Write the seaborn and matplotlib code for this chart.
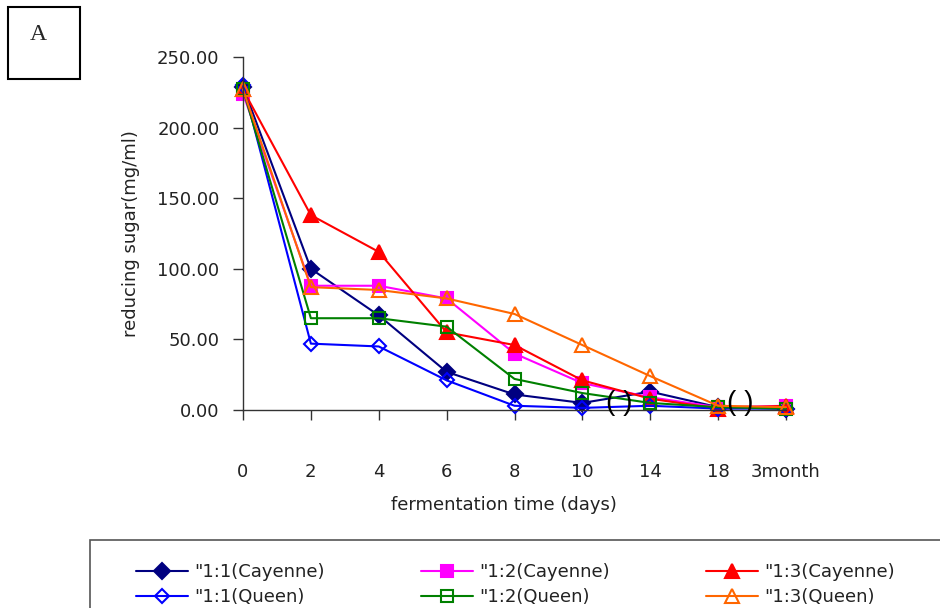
import matplotlib
matplotlib.use("Agg")
import matplotlib.pyplot as plt
from matplotlib.patches import Rectangle
from matplotlib.ticker import FormatStrFormatter
import seaborn as sns
import pandas as pd

# fermentation time categories
time_labels = ["0", "2", "4", "6", "8", "10", "14", "18", "3month"]

# reducing sugar (mg/ml) per treatment
cay_1_1 = [229, 100, 67, 27, 11, 5, 13, 2, 1]
cay_1_2 = [224, 88, 88, 79, 40, 19, 9, 2, 3]
cay_1_3 = [227, 138, 112, 55, 46, 21, 8, 1, 3]
queen_1_1 = [230, 47, 45, 21, 3, 1.5, 3, 1, 1]
queen_1_2 = [227, 65, 65, 59, 22, 12, 5, 2, 1]
queen_1_3 = [227, 87, 85, 79, 68, 46, 24, 3, 2]

series_names = ['"1:1(Cayenne)', '"1:2(Cayenne)', '"1:3(Cayenne)',
                '"1:1(Queen)', '"1:2(Queen)', '"1:3(Queen)']
series_values = [cay_1_1, cay_1_2, cay_1_3, queen_1_1, queen_1_2, queen_1_3]
series_colors = ["#000080", "#FF00FF", "#FF0000", "#0000FF", "#008000", "#FF6600"]
series_markers = ["D", "s", "^", "D", "s", "^"]
series_filled = [True, True, True, False, False, False]
series_msize = [8, 8, 10, 7, 8, 10]

FS = 13
TXT = "#222222"

sns.set_style("ticks")
plt.rcParams["font.family"] = ["DejaVu Sans"]

fig = plt.figure(figsize=(9.4, 6.08), dpi=100)
ax = fig.add_axes([243 / 940, 1 - 410 / 608, (786 - 243) / 940, (410 - 57) / 608])

pos = list(range(len(time_labels)))
handles = {}
for name, vals, col, mk, filled, ms in zip(series_names, series_values, series_colors,
                                            series_markers, series_filled, series_msize):
    df = pd.DataFrame({"pos": pos, "sugar": vals})
    sns.lineplot(data=df, x="pos", y="sugar", ax=ax, color=col, linewidth=1.5,
                 marker=mk, markersize=ms, markeredgewidth=1.5,
                 markerfacecolor=col if filled else "none", markeredgecolor=col,
                 clip_on=False, legend=False)
    handles[name] = ax.lines[-1]

ax.set_xlim(0, 8)
ax.set_ylim(0, 250)
ax.set_xticks(pos)
ax.set_xticklabels(time_labels)
ax.set_yticks([0, 50, 100, 150, 200, 250])
ax.yaxis.set_major_formatter(FormatStrFormatter("%.2f"))
sns.despine(ax=ax)
for s in ["left", "bottom"]:
    ax.spines[s].set_color("#333333")
    ax.spines[s].set_linewidth(1.0)
ax.tick_params(axis="x", direction="out", length=7, width=1, color="#333333",
               pad=31, labelsize=FS, labelcolor=TXT)
ax.tick_params(axis="y", direction="out", length=7, width=1, color="#333333",
               pad=10, labelsize=FS, labelcolor=TXT)
ax.set_xlabel("fermentation time (days)", fontsize=FS, color=TXT)
ax.xaxis.set_label_coords((504 - 243) / (786 - 243), -(505 - 410) / (410 - 57))
ax.xaxis.label.set_va("center")
ax.set_ylabel("reducing sugar(mg/ml)", fontsize=FS, color=TXT, labelpad=12)

# axis break marks
for xb in [5.55, 7.32]:
    ax.text(xb, 5, "( )", fontsize=20, ha="center", va="center", color="black",
            fontfamily="Liberation Sans")

# panel label
fig.patches.append(Rectangle((8 / 940, 1 - 79 / 608), 72 / 940, 72 / 608,
                             transform=fig.transFigure, fill=False,
                             edgecolor="black", linewidth=1.5))
fig.text(38 / 940, 1 - 35 / 608, "A", fontsize=17, ha="center", va="center",
         fontfamily=["Liberation Serif", "DejaVu Serif"])

# legend box
fig.patches.append(Rectangle((90 / 940, -0.05), 870 / 940, 0.05 + 68 / 608,
                             transform=fig.transFigure, fill=False,
                             edgecolor="#555555", linewidth=1.2))
order = ['"1:1(Cayenne)', '"1:1(Queen)', '"1:2(Cayenne)', '"1:2(Queen)',
         '"1:3(Cayenne)', '"1:3(Queen)']
fig.legend([handles[n] for n in order], order, loc="upper left",
           bbox_to_anchor=(136 / 940, 1 - 563 / 608), ncol=3, frameon=False,
           fontsize=FS, handlelength=2.9, handletextpad=0.35, columnspacing=5.3,
           labelspacing=0.38, borderpad=0, borderaxespad=0, labelcolor=TXT)

fig.savefig("out.png", dpi=100)
